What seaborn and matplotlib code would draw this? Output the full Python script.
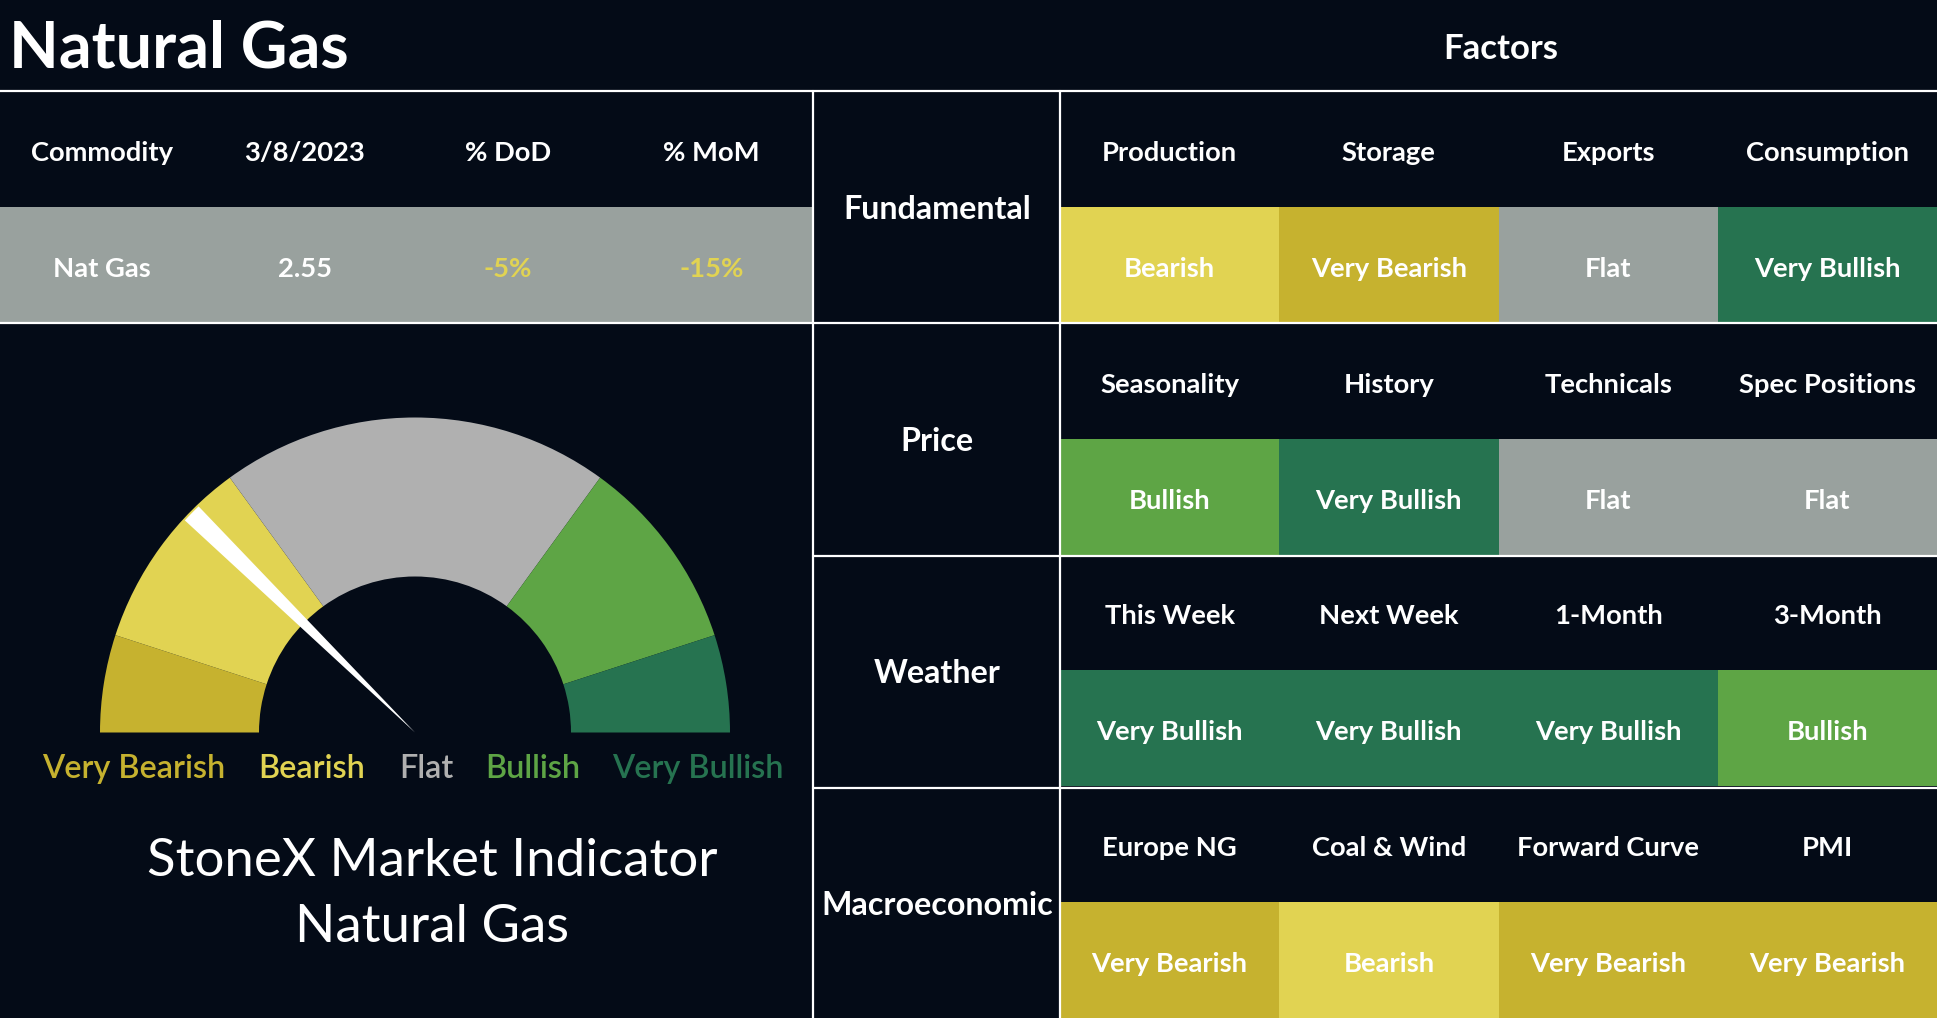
import numpy as np
import matplotlib
matplotlib.use("Agg")
import matplotlib.pyplot as plt
from matplotlib.colors import ListedColormap
import seaborn as sns

# ---- data ----
commodity_cols = ["Commodity", "3/8/2023", "% DoD", "% MoM"]
commodity_vals = ["Nat Gas", "2.55", "-5%", "-15%"]

groups = ["Fundamental", "Price", "Weather", "Macroeconomic"]
factor_names = [
    ["Production", "Storage", "Exports", "Consumption"],
    ["Seasonality", "History", "Technicals", "Spec Positions"],
    ["This Week", "Next Week", "1-Month", "3-Month"],
    ["Europe NG", "Coal & Wind", "Forward Curve", "PMI"],
]
factor_signals = [
    ["Bearish", "Very Bearish", "Flat", "Very Bullish"],
    ["Bullish", "Very Bullish", "Flat", "Flat"],
    ["Very Bullish", "Very Bullish", "Very Bullish", "Bullish"],
    ["Very Bearish", "Bearish", "Very Bearish", "Very Bearish"],
]

levels = ["Very Bearish", "Bearish", "Flat", "Bullish", "Very Bullish"]
gauge_share = [10, 20, 40, 20, 10]
needle_value = 24.7   # position on a 0-100 scale

# ---- styles ----
W, H = 1937, 1018
BG = "#040B17"
cell_colors = ["#C6B22F", "#E1D352", "#99A19E", "#5EA545", "#267350"]
gauge_colors = ["#C6B22F", "#E1D352", "#B0B0B0", "#5EA545", "#267350"]
value_colors = ["white", "white", "#E1D352", "#E1D352"]
FONT = ["Lato", "DejaVu Sans"]

sns.set_theme(style="dark")
plt.rcParams["font.family"] = FONT

fig = plt.figure(figsize=(W / 100, H / 100), dpi=100, facecolor=BG)
cmap = ListedColormap([BG] + cell_colors)
cell_font = dict(fontsize=19.7, color="white", fontweight="bold")
nudge = 0.035   # push annotations down a few pixels (in row units)

# left table (header row + value row)
ax_l = fig.add_axes([0, (H - 323) / H, 813 / W, 232 / H])
left_codes = np.array([[0] * 4, [3] * 4])
left_annot = np.array([commodity_cols, commodity_vals])
sns.heatmap(left_codes, annot=left_annot, fmt="", cmap=cmap, vmin=-0.5, vmax=5.5,
            cbar=False, linewidths=0, ax=ax_l, annot_kws=cell_font)
for t in ax_l.texts:
    t.set_y(t.get_position()[1] + nudge)
    if t.get_text() in commodity_vals:
        t.set_color(value_colors[commodity_vals.index(t.get_text())])
ax_l.set_axis_off()

# factor grid
codes, annot = [], []
for names, sigs in zip(factor_names, factor_signals):
    codes.append([0] * 4)
    annot.append(names)
    codes.append([levels.index(s) + 1 for s in sigs])
    annot.append(sigs)
ax_r = fig.add_axes([1060 / W, 0, (W - 1060) / W, (H - 91) / H])
sns.heatmap(np.array(codes), annot=np.array(annot), fmt="", cmap=cmap, vmin=-0.5, vmax=5.5,
            cbar=False, linewidths=0, ax=ax_r, annot_kws=cell_font)
for t in ax_r.texts:
    t.set_y(t.get_position()[1] + nudge)
ax_r.set_axis_off()

# overlay: lines, labels, gauge
ax = fig.add_axes([0, 0, 1, 1])
ax.patch.set_alpha(0)

cx, cy = 415, H - 732.5
ax.pie(gauge_share + [sum(gauge_share)], radius=315, center=(cx, cy), startangle=180,
       counterclock=False, colors=gauge_colors + ["none"], frame=True,
       wedgeprops=dict(width=159, linewidth=0))
ax.pie([needle_value - 1, 2, 99 - needle_value, 100], radius=313, center=(cx, cy),
       startangle=180, counterclock=False, colors=["none", "white", "none", "none"],
       frame=True, wedgeprops=dict(linewidth=0))

lw = 1.6
ax.plot([0, W], [H - 91, H - 91], color="white", lw=lw)
ax.plot([0, W], [H - 323, H - 323], color="white", lw=lw)
for y in [556, 788]:
    ax.plot([813, W], [H - y, H - y], color="white", lw=lw)
for x in [813, 1060]:
    ax.plot([x, x], [0, H - 91], color="white", lw=lw)

ax.text(9, H - 49, "Natural Gas", color="white", fontsize=46.5, fontweight="bold",
        ha="left", va="center")
ax.text(1501, H - 49, "Factors", color="white", fontsize=25, fontweight="bold",
        ha="center", va="center")

row_h = (H - 91) / 8
for i, g in enumerate(groups):
    ax.text(937, H - (94 + (2 * i + 1) * row_h), g, color="white", fontsize=23.2,
            fontweight="bold", ha="center", va="center")

label_x = [134, 312, 426, 533, 698]
for x, lab, c in zip(label_x, levels, gauge_colors):
    ax.text(x, H - 769, lab, color=c, fontsize=23.3, fontweight="semibold",
            ha="center", va="center")

ax.text(432, H - 862, "StoneX Market Indicator", color="white", fontsize=38,
        ha="center", va="center")
ax.text(432, H - 927, "Natural Gas", color="white", fontsize=38,
        ha="center", va="center")

ax.set_xlim(0, W)
ax.set_ylim(0, H)
ax.set_axis_off()

fig.savefig("out.png", dpi=100, facecolor=BG)
